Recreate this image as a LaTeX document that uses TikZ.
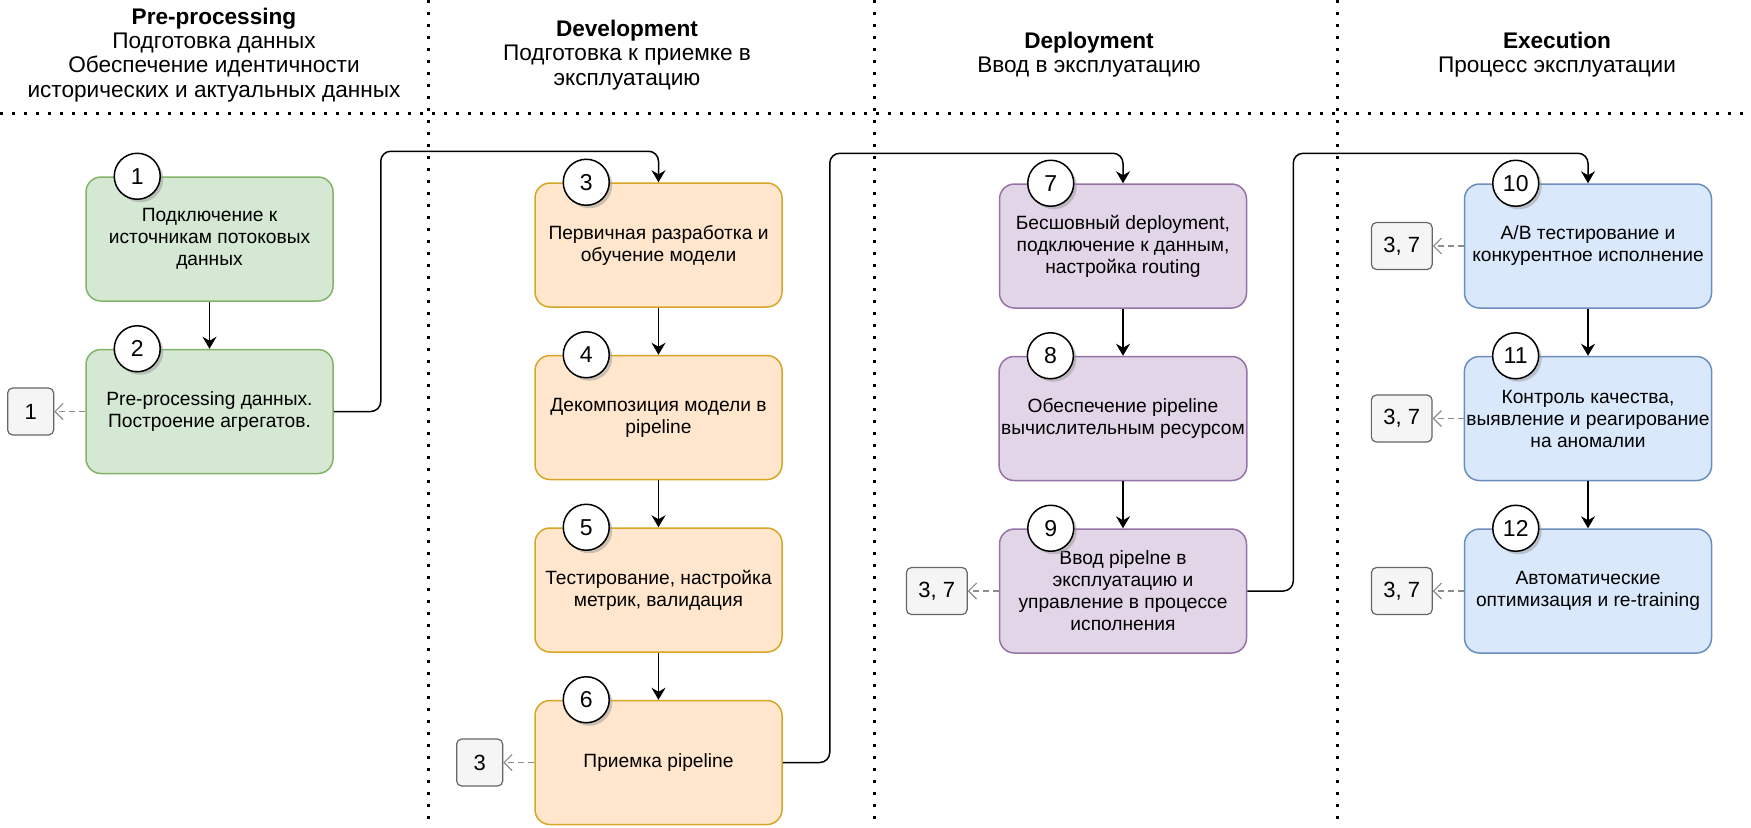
\documentclass[tikz,border=0pt]{standalone}
\usepackage{fontspec}
\setmainfont{Liberation Sans}
\usetikzlibrary{arrows.meta,positioning,shadows}
\definecolor{grnFill}{HTML}{D5E8D4}
\definecolor{grnLine}{HTML}{82B366}
\definecolor{orgFill}{HTML}{FFE6CC}
\definecolor{orgLine}{HTML}{D6A624}
\definecolor{purFill}{HTML}{E1D5E7}
\definecolor{purLine}{HTML}{9673A6}
\definecolor{bluFill}{HTML}{DAE8FC}
\definecolor{bluLine}{HTML}{6C8EBF}
\definecolor{refFill}{HTML}{F5F5F5}
\definecolor{refLine}{HTML}{666666}

\begin{document}
\begin{tikzpicture}[x=0.5pt,y=-0.5pt,
    node distance=23.5pt,
    stage/.style={line width=0.75pt, rounded corners=7.5pt, minimum width=123.5pt,
      minimum height=62pt, inner xsep=1pt, align=center, font=\fontsize{9.6}{11}\selectfont},
    prep/.style={stage, fill=grnFill, draw=grnLine},
    devel/.style={stage, fill=orgFill, draw=orgLine},
    deplo/.style={stage, fill=purFill, draw=purLine},
    exec/.style={stage, fill=bluFill, draw=bluLine},
    numcirc/.style={circle, draw, fill=white, line width=0.75pt, minimum size=23pt,
      inner sep=0pt, font=\fontsize{11.5}{13}\selectfont,
      drop shadow={shadow xshift=1.5pt, shadow yshift=-1.5pt, fill=black!40, opacity=0.5}},
    refbox/.style={draw=refLine, fill=refFill, line width=0.6pt, rounded corners=2.5pt,
      minimum height=23.5pt, minimum width=23pt, inner xsep=6pt,
      font=\fontsize{11}{12}\selectfont},
    flow/.style={-{Stealth[length=6pt,width=7pt,inset=2pt]}, line width=0.75pt, rounded corners=5pt},
    backref/.style={-{Straight Barb[length=4pt,width=8pt]}, draw=black!45,
      dash pattern=on 3pt off 2pt, line width=0.6pt},
    sep/.style={line width=1.5pt, dash pattern=on 1.5pt off 4.5pt},
    head/.style={align=center, font=\fontsize{11.3}{12.1}\selectfont}
  ]
    \fill[white] (0,0) rectangle (1751,827);
    \useasboundingbox (0,0) rectangle (1751,827);

    % separators
    \draw[sep] (0,113) -- (1751,113);
    \foreach \x in {428,874,1337}{
      \draw[sep] (\x,0) -- (\x,827);
    }

    % column headers
    \node[head] (hPre) at (214,55) {\textbf{Pre-processing}\\Подготовка данных\\Обеспечение идентичности\\исторических и актуальных данных};
    \node[head] (hDev) at (627,55) {\textbf{Development}\\Подготовка к приемке в\\эксплуатацию};
    \node[head] (hDep) at (1089,55) {\textbf{Deployment}\\Ввод в эксплуатацию};
    \node[head] (hExe) at (1557,55) {\textbf{Execution}\\Процесс эксплуатации};

    % pre-processing
    \node[prep] (b1) at (209.5,239) {Подключение к\\источникам потоковых\\данных};
    \node[prep, below=of b1] (b2) {Pre-processing данных.\\Построение агрегатов.};

    % development
    \node[devel] (b3) at (658.5,245) {Первичная разработка и\\обучение модели};
    \node[devel, below=of b3] (b4) {Декомпозиция модели в\\pipeline};
    \node[devel, below=of b4] (b5) {Тестирование, настройка\\метрик, валидация};
    \node[devel, below=of b5] (b6) {Приемка pipeline};

    % deployment
    \node[deplo] (b7) at (1123,246) {Бесшовный deployment,\\подключение к данным,\\настройка routing};
    \node[deplo, below=of b7] (b8) {Обеспечение pipeline\\вычислительным ресурсом};
    \node[deplo, below=of b8] (b9) {Ввод pipelne в\\эксплуатацию и\\управление в процессе\\исполнения};

    % execution
    \node[exec] (b10) at (1588,246) {A/B тестирование и\\конкурентное исполнение};
    \node[exec, below=of b10] (b11) {Контроль качества,\\выявление и реагирование\\на аномалии};
    \node[exec, below=of b11] (b12) {Автоматические\\оптимизация и re-training};

    % step numbers
    \foreach \i in {1,...,12}{
      \node[numcirc] (n\i) at ([xshift=26pt]b\i.north west) {\i};
    }

    % back references
    \node[refbox, left=15.5pt of b2] (r2) {1};
    \node[refbox, left=15.5pt of b6] (r6) {3};
    \node[refbox, left=15.5pt of b9] (r9) {3, 7};
    \node[refbox, left=15.5pt of b10] (r10) {3, 7};
    \node[refbox, left=15.5pt of b11] (r11) {3, 7};
    \node[refbox, left=15.5pt of b12] (r12) {3, 7};
    \foreach \s in {2,6,9,10,11,12}{
      \draw[backref] (b\s.west) -- (r\s.east);
    }

    % flow inside columns
    \foreach \a/\b in {1/2,3/4,4/5,5/6,7/8,8/9,10/11,11/12}{
      \draw[flow] (b\a.south) -- (b\b.north);
    }

    % flow between columns
    \draw[flow] (b2.east) -- ++(47,0) |- ([yshift=15.5pt]b3.north) -- (b3.north);
    \draw[flow] (b6.east) -- ++(47,0) |- ([yshift=15pt]b7.north) -- (b7.north);
    \draw[flow] (b9.east) -- ++(46,0) |- ([yshift=15pt]b10.north) -- (b10.north);
  \end{tikzpicture}
\end{document}
